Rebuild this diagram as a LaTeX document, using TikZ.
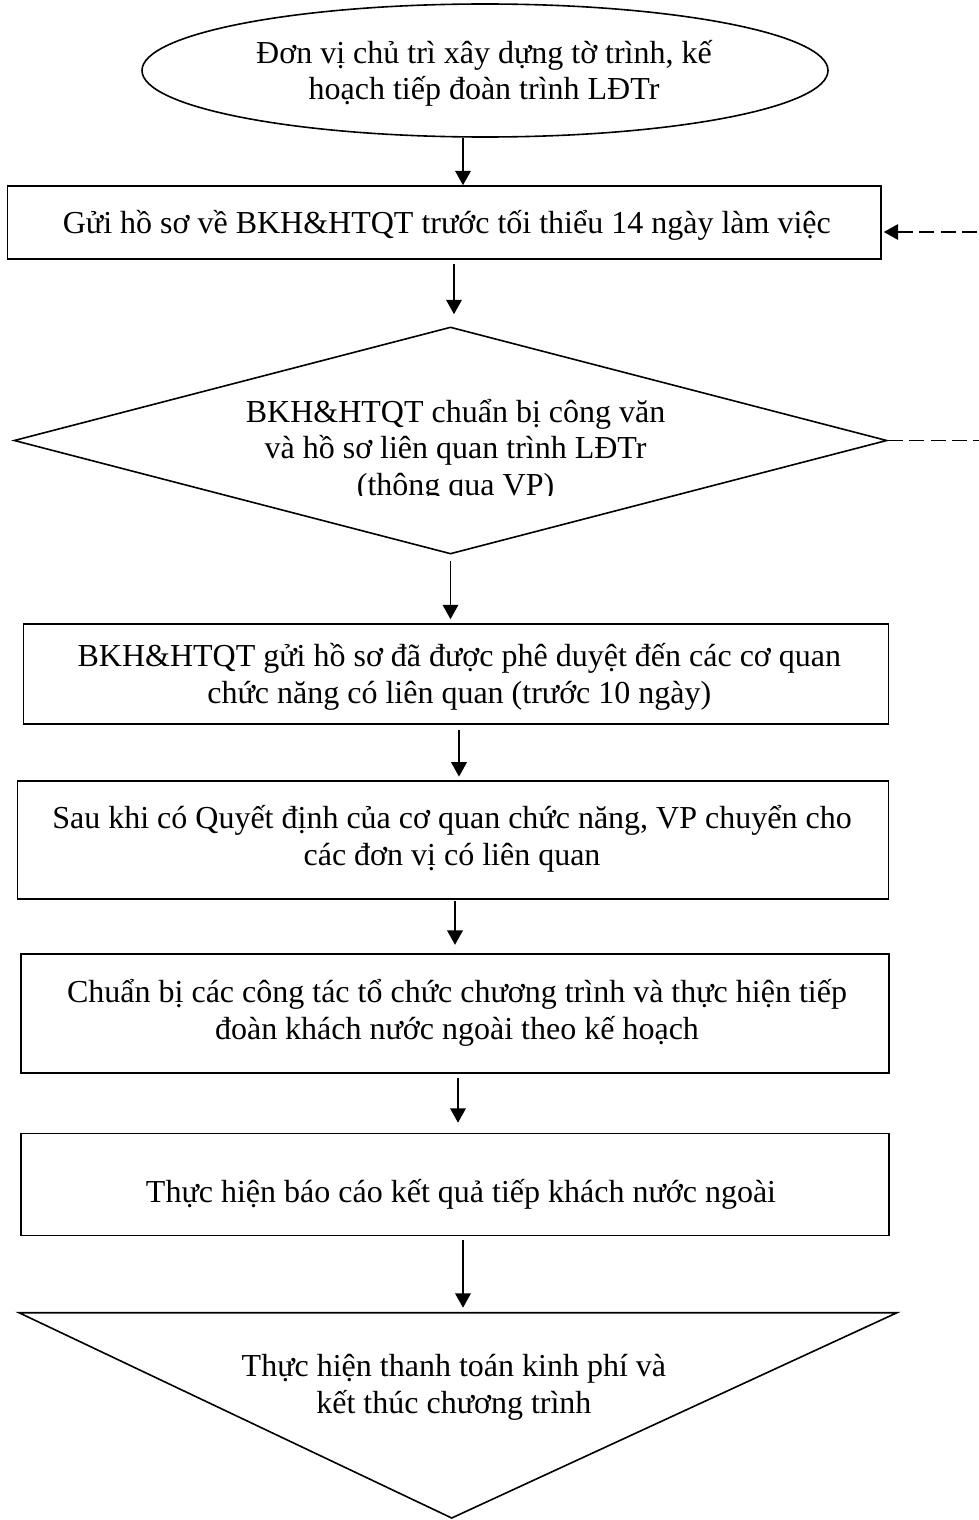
\documentclass[tikz,border=0pt]{standalone}
\usepackage{fontspec}
\setmainfont{Liberation Serif}
\usetikzlibrary{shapes.geometric,arrows.meta}
\begin{document}
\begin{tikzpicture}[x=0.5pt,y=-0.5pt,
  txt/.style={font=\fontsize{16}{18.3}\selectfont, align=center, inner sep=0pt, anchor=base},
  boxnode/.style={draw, line width=0.8pt, rectangle, inner sep=0pt},
  outline/.style={draw, line width=0.8pt, inner sep=0pt},
  arr/.style={line width=0.8pt, -{Triangle[length=7.2pt,width=7.8pt]}},
  dashstyle/.style={line width=0.8pt, dash pattern=on 7.5pt off 3.2pt},
  darr/.style={dashstyle, -{Triangle[length=7.2pt,width=7.8pt]}}
]
\clip (0,0) rectangle (979,1520);
\fill[white] (0,0) rectangle (979,1520);

% ellipse
\node[ellipse, outline, minimum width=343pt, minimum height=66.5pt] (e) at (485,70.5) {};
\node[txt] (et) at (484,100) {Đơn vị chủ trì xây dựng tờ trình, kế\\hoạch tiếp đoàn trình LĐTr};

% box 1
\node[boxnode, minimum width=436.75pt, minimum height=36.5pt] (b1) at (444.25,222.5) {};
\node[txt] (b1t) at (446.8,233) {Gửi hồ sơ về BKH\&HTQT trước tối thiểu 14 ngày làm việc};

% diamond
\node[diamond, outline, minimum width=436.5pt, minimum height=113.5pt] (d) at (450.5,440.5) {};
\begin{scope}
\clip (150,380) rectangle (750,495.5);
\node[txt] (dt) at (455.6,495.5) {BKH\&HTQT chuẩn bị công văn\\và hồ sơ liên quan trình LĐTr\\(thông qua VP)};
\end{scope}

% box 2
\node[boxnode, minimum width=432.5pt, minimum height=50pt] (b2) at (456,674) {};
\node[txt] (b2t) at (459.3,703.3) {BKH\&HTQT gửi hồ sơ đã được phê duyệt đến các cơ quan\\chức năng có liên quan (trước 10 ngày)};

% box 3
\node[boxnode, minimum width=435.5pt, minimum height=59pt] (b3) at (453,840) {};
\node[txt] (b3t) at (452,865) {Sau khi có Quyết định của cơ quan chức năng, VP chuyển cho\\các đơn vị có liên quan};

% box 4
\node[boxnode, minimum width=434pt, minimum height=59.5pt] (b4) at (455,1013.5) {};
\node[txt] (b4t) at (457,1039) {Chuẩn bị các công tác tổ chức chương trình và thực hiện tiếp\\đoàn khách nước ngoài theo kế hoạch};

% box 5
\node[boxnode, minimum width=434pt, minimum height=51pt] (b5) at (455,1184.5) {};
\node[txt] (b5t) at (461,1202.7) {Thực hiện báo cáo kết quả tiếp khách nước ngoài};

% triangle
\coordinate (tl) at (19,1312.7);
\coordinate (tr) at (897,1312.7);
\coordinate (tb) at (451.7,1518);
\coordinate (ttop) at (463,1312.7);
\draw[line width=0.8pt, line join=miter] (tl) -- (tr) -- (tb) -- cycle;
\node[txt] (tt) at (453.9,1413) {Thực hiện thanh toán kinh phí và\\kết thúc chương trình};

% connectors
\draw[arr] (e.south -| 463,0) -- (b1.north -| 463,0);
\draw[arr, shorten <=2pt, shorten >=6pt] (b1.south -| 454,0) -- (d.north -| 454,0);
\draw[arr, shorten <=3pt, shorten >=2pt] (d.south) -- (b2.north -| d.south);
\draw[arr, shorten <=2.5pt, shorten >=1.8pt] (b2.south -| 459,0) -- (b3.north -| 459,0);
\draw[arr, shorten <=0.5pt, shorten >=4.2pt] (b3.south -| 455,0) -- (b4.north -| 455,0);
\draw[arr, shorten <=2pt, shorten >=5pt] (b4.south -| 458,0) -- (b5.north -| 458,0);
\draw[arr, shorten <=2pt, shorten >=2.5pt] (b5.south -| ttop) -- (ttop);

% dashed feedback loop
\coordinate (fb) at (1020,232);
\draw[dashstyle] (d.east) -- (d.east -| fb) -- (fb);
\draw[darr, shorten >=1pt] (fb) -- (b1.east |- fb);
\end{tikzpicture}
\end{document}
